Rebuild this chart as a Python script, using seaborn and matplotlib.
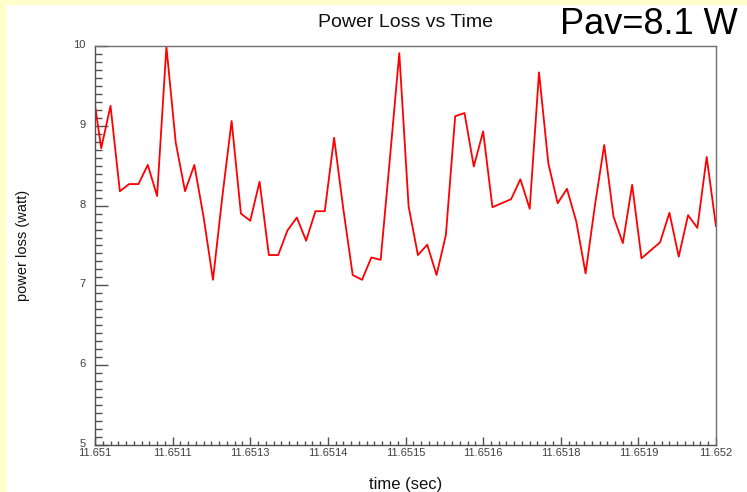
import numpy as np
import pandas as pd
import matplotlib
matplotlib.use("Agg")
import matplotlib.pyplot as plt
from matplotlib.patches import Rectangle
from matplotlib.ticker import MultipleLocator
from matplotlib.transforms import ScaledTranslation
import seaborn as sns

# Sampled power loss (W), one sample every 15 microseconds
t_start = 11.650995
dt = 1.5e-5
power_loss = [
    9.53, 8.72, 9.25, 8.18, 8.27, 8.27, 8.51, 8.12, 9.99, 8.79, 8.18,
    8.51, 7.85, 7.07, 8.11, 9.06, 7.90, 7.81, 8.30, 7.38, 7.38,
    7.69, 7.85, 7.56, 7.93, 7.93, 8.85, 7.95, 7.13, 7.07, 7.35,
    7.32, 8.60, 9.91, 7.99, 7.38, 7.51, 7.13, 7.63, 9.12, 9.16,
    8.49, 8.93, 7.98, 8.03, 8.08, 8.33, 7.96, 9.67, 8.53, 8.03,
    8.21, 7.80, 7.15, 8.00, 8.76, 7.86, 7.53, 8.26, 7.34, 7.44,
    7.54, 7.91, 7.36, 7.88, 7.72, 8.61, 7.74,
]
time_s = [t_start + i * dt for i in range(len(power_loss))]

x_ticks = [11.651, 11.651125, 11.65125, 11.651375, 11.6515,
           11.651625, 11.65175, 11.651875, 11.652]
x_tick_labels = ["11.651", "11.6511", "11.6513", "11.6514", "11.6515",
                 "11.6516", "11.6518", "11.6519", "11.652"]
y_ticks = [5, 6, 7, 8, 9, 10]

df = pd.DataFrame({"time": time_s, "power": power_loss})
p_avg = float(np.mean(power_loss))

sns.set_theme(style="white")
plt.rcParams["font.family"] = ["Liberation Sans", "DejaVu Sans"]

fig = plt.figure(figsize=(7.47, 4.92), dpi=100)
fig.patch.set_facecolor("#FFFFCC")
fig.patches.append(Rectangle((6 / 747, 0), 1, 1 - 5 / 492, transform=fig.transFigure,
                             facecolor="white", edgecolor="none", zorder=-10))

ax = fig.add_axes([95 / 747, 1 - 445 / 492, 621 / 747, 399 / 492])
ax.set_facecolor("white")

sns.lineplot(data=df, x="time", y="power", ax=ax, color="#FF0000",
             linewidth=1.3, estimator=None)

ax.set_xlim(11.651, 11.652)
ax.set_ylim(5, 10)
ax.set_xticks(x_ticks, x_tick_labels)
ax.set_yticks(y_ticks, [str(v) for v in y_ticks])
ax.xaxis.set_minor_locator(MultipleLocator(0.0000125))
ax.yaxis.set_minor_locator(MultipleLocator(0.1))

for s in ["left", "bottom", "top", "right"]:
    ax.spines[s].set_color("#707070")
    ax.spines[s].set_linewidth(1.0)
ax.spines["left"].set_color("#505050")
ax.spines["bottom"].set_color("#505050")

ax.tick_params(axis="y", which="major", direction="in", length=9, width=1,
               color="#505050", labelsize=8, labelcolor="#404040", pad=7,
               left=True, right=False)
ax.tick_params(axis="y", which="minor", direction="in", length=5, width=1,
               color="#505050", left=True, right=False)
ax.tick_params(axis="x", which="major", direction="in", length=6, width=1,
               color="#505050", labelsize=8, labelcolor="#404040", pad=2,
               bottom=True, top=False)
ax.tick_params(axis="x", which="minor", direction="in", length=3, width=1,
               color="#505050", bottom=True, top=False)

# y tick labels sit a little above their ticks
lift = ScaledTranslation(0, 2 / 100, fig.dpi_scale_trans)
for lbl in ax.get_yticklabels():
    lbl.set_transform(lbl.get_transform() + lift)

ax.set_xlabel("time (sec)", fontsize=12, color="#111111", labelpad=14)
ax.set_ylabel("power loss (watt)", fontsize=10.5, color="#111111", labelpad=31)
ax.set_title("Power Loss vs Time", fontsize=14, color="#111111", pad=14)

fig.text(738 / 747, 1 - 25 / 492, f"Pav={p_avg:.1f} W", ha="right", va="center",
         fontsize=26, color="black")

fig.savefig("out.png", dpi=100, facecolor=fig.get_facecolor())
